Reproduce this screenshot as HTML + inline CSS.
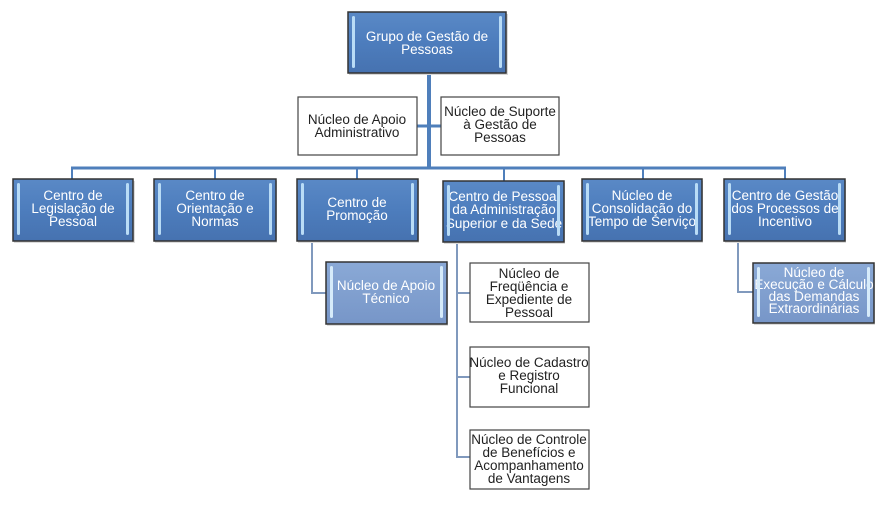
<!DOCTYPE html>
<html><head><meta charset="utf-8"><style>
html,body{margin:0;padding:0;background:#fff;}
svg{display:block;}
text{font-family:"Liberation Sans","DejaVu Sans",sans-serif;font-size:13.5px;text-anchor:middle;}
.w{fill:#fff;}
.d{fill:#222;}
</style></head><body>
<svg width="890" height="513" viewBox="0 0 890 513" xmlns="http://www.w3.org/2000/svg">
<defs>
<linearGradient id="gb" x1="0" y1="0" x2="0" y2="1">
<stop offset="0" stop-color="#5a89c6"/><stop offset="0.5" stop-color="#4d7dbd"/><stop offset="1" stop-color="#4672b0"/>
</linearGradient>
<linearGradient id="gl" x1="0" y1="0" x2="0" y2="1">
<stop offset="0" stop-color="#8aa9d6"/><stop offset="1" stop-color="#7796c8"/>
</linearGradient>
<clipPath id="c4"><rect x="443" y="181" width="121" height="61"/></clipPath>
<clipPath id="c6"><rect x="724" y="179" width="121" height="62"/></clipPath>
<clipPath id="c8"><rect x="753" y="263" width="121" height="60"/></clipPath>
</defs>

<!-- connectors -->
<g stroke="#4f7fbb" fill="none">
<line x1="429" y1="73" x2="429" y2="169" stroke-width="4"/>
<line x1="417" y1="126" x2="441" y2="126" stroke-width="3"/>
<line x1="71" y1="168" x2="786" y2="168" stroke-width="3"/>
<g stroke-width="2">
<line x1="72" y1="168" x2="72" y2="179"/>
<line x1="215" y1="168" x2="215" y2="179"/>
<line x1="357" y1="168" x2="357" y2="179"/>
<line x1="504" y1="168" x2="504" y2="181"/>
<line x1="643" y1="168" x2="643" y2="179"/>
<line x1="785" y1="168" x2="785" y2="179"/>
</g>
</g>
<g stroke="#8099bd" fill="none" stroke-width="2">
<polyline points="312,241 312,293 326,293"/>
<polyline points="457,242 457,457 470,457"/>
<line x1="457" y1="293" x2="470" y2="293"/>
<line x1="457" y1="377" x2="470" y2="377"/>
<polyline points="738,241 738,292 753,292"/>
</g>

<!-- blue box template drawing -->
<g>
<!-- top box -->
<rect x="349" y="14" width="159" height="61" fill="#d8d8d8"/>
<rect x="348" y="12" width="158" height="61" fill="url(#gb)" stroke="#333" stroke-width="1.5"/>
<rect x="352" y="16" width="3" height="52" rx="1.5" fill="#b9dcf6"/>
<rect x="499" y="16" width="3" height="52" rx="1.5" fill="#b9dcf6"/>
<text class="w" x="427" y="41">Grupo de Gestão de</text>
<text class="w" x="427" y="54">Pessoas</text>
</g>

<!-- white level boxes -->
<rect x="298" y="97" width="119" height="58" fill="#fff" stroke="#444" stroke-width="1.2"/>
<text class="d" x="357" y="124">Núcleo de Apoio</text>
<text class="d" x="357" y="137">Administrativo</text>
<rect x="441" y="97" width="118" height="58" fill="#fff" stroke="#444" stroke-width="1.2"/>
<text class="d" x="500" y="116">Núcleo de Suporte</text>
<text class="d" x="500" y="129">à Gestão de</text>
<text class="d" x="500" y="142">Pessoas</text>

<!-- level 2 blue boxes -->
<g>
<rect x="14" y="181" width="121" height="62" fill="#dcdcdc"/>
<rect x="13" y="179" width="120" height="62" fill="url(#gb)" stroke="#333" stroke-width="1.5"/>
<rect x="17" y="183" width="3" height="52" rx="1.5" fill="#b9dcf6"/>
<rect x="126" y="183" width="3" height="52" rx="1.5" fill="#b9dcf6"/>
<text class="w" x="73" y="200">Centro de</text>
<text class="w" x="73" y="213">Legislação de</text>
<text class="w" x="73" y="226">Pessoal</text>
</g>
<g>
<rect x="155" y="181" width="122" height="62" fill="#dcdcdc"/>
<rect x="154" y="179" width="122" height="62" fill="url(#gb)" stroke="#333" stroke-width="1.5"/>
<rect x="158" y="183" width="3" height="52" rx="1.5" fill="#b9dcf6"/>
<rect x="269" y="183" width="3" height="52" rx="1.5" fill="#b9dcf6"/>
<text class="w" x="215" y="200">Centro de</text>
<text class="w" x="215" y="213">Orientação e</text>
<text class="w" x="215" y="226">Normas</text>
</g>
<g>
<rect x="298" y="181" width="121" height="62" fill="#dcdcdc"/>
<rect x="297" y="179" width="121" height="62" fill="url(#gb)" stroke="#333" stroke-width="1.5"/>
<rect x="301" y="183" width="3" height="52" rx="1.5" fill="#b9dcf6"/>
<rect x="411" y="183" width="3" height="52" rx="1.5" fill="#b9dcf6"/>
<text class="w" x="357" y="207">Centro de</text>
<text class="w" x="357" y="220">Promoção</text>
</g>
<g>
<rect x="444" y="183" width="121" height="61" fill="#dcdcdc"/>
<rect x="443" y="181" width="121" height="61" fill="url(#gb)" stroke="#333" stroke-width="1.5"/>
<g clip-path="url(#c4)">
<text class="w" x="504" y="201">Centro de Pessoal</text>
<text class="w" x="504" y="214">da Administração</text>
<text class="w" x="504" y="228">Superior e da Sede</text>
</g>
<rect x="447" y="185" width="3" height="51" rx="1.5" fill="#b9dcf6"/>
<rect x="557" y="185" width="3" height="51" rx="1.5" fill="#b9dcf6"/>
</g>
<g>
<rect x="583" y="181" width="120" height="62" fill="#dcdcdc"/>
<rect x="582" y="179" width="120" height="62" fill="url(#gb)" stroke="#333" stroke-width="1.5"/>
<text class="w" x="642" y="200">Núcleo de</text>
<text class="w" x="642" y="213">Consolidação do</text>
<text class="w" x="642" y="226">Tempo de Serviço</text>
<rect x="586" y="183" width="3" height="52" rx="1.5" fill="#b9dcf6"/>
<rect x="695" y="183" width="3" height="52" rx="1.5" fill="#b9dcf6"/>
</g>
<g>
<rect x="725" y="181" width="121" height="62" fill="#dcdcdc"/>
<rect x="724" y="179" width="121" height="62" fill="url(#gb)" stroke="#333" stroke-width="1.5"/>
<g clip-path="url(#c6)">
<text class="w" x="785" y="200">Centro de  Gestão</text>
<text class="w" x="785" y="213">dos Processos de</text>
<text class="w" x="785" y="226">Incentivo</text>
</g>
<rect x="728" y="183" width="3" height="52" rx="1.5" fill="#b9dcf6"/>
<rect x="838" y="183" width="3" height="52" rx="1.5" fill="#b9dcf6"/>
</g>

<!-- level 3 -->
<g>
<rect x="327" y="264" width="121" height="62" fill="#dcdcdc"/>
<rect x="326" y="262" width="121" height="62" fill="url(#gl)" stroke="#333" stroke-width="1.5"/>
<rect x="330" y="266" width="3" height="52" rx="1.5" fill="#d6ebfa"/>
<rect x="440" y="266" width="3" height="52" rx="1.5" fill="#d6ebfa"/>
<text class="w" x="386" y="290">Núcleo de Apoio</text>
<text class="w" x="386" y="303">Técnico</text>
</g>
<g>
<rect x="754" y="265" width="121" height="60" fill="#dcdcdc"/>
<rect x="753" y="263" width="121" height="60" fill="url(#gl)" stroke="#333" stroke-width="1.5"/>
<g clip-path="url(#c8)">
<text class="w" x="814" y="277">Núcleo  de</text>
<text class="w" x="814" y="289">Execução e Cálculo</text>
<text class="w" x="814" y="301">das Demandas</text>
<text class="w" x="814" y="313">Extraordinárias</text>
</g>
<rect x="757" y="267" width="3" height="50" rx="1.5" fill="#d6ebfa"/>
<rect x="867" y="267" width="3" height="50" rx="1.5" fill="#d6ebfa"/>
</g>

<rect x="470" y="263" width="119" height="59" fill="#fff" stroke="#444" stroke-width="1.2"/>
<text class="d" x="529" y="278">Núcleo de</text>
<text class="d" x="529" y="291">Freqüência e</text>
<text class="d" x="529" y="304">Expediente de</text>
<text class="d" x="529" y="317">Pessoal</text>

<rect x="470" y="347" width="119" height="60" fill="#fff" stroke="#444" stroke-width="1.2"/>
<text class="d" x="529" y="367">Núcleo de Cadastro</text>
<text class="d" x="529" y="380">e Registro</text>
<text class="d" x="529" y="393">Funcional</text>

<rect x="470" y="430" width="119" height="59" fill="#fff" stroke="#444" stroke-width="1.2"/>
<text class="d" x="529" y="444">Núcleo de Controle</text>
<text class="d" x="529" y="457">de Benefícios e</text>
<text class="d" x="529" y="470">Acompanhamento</text>
<text class="d" x="529" y="483">de Vantagens</text>
</svg>
</body></html>
